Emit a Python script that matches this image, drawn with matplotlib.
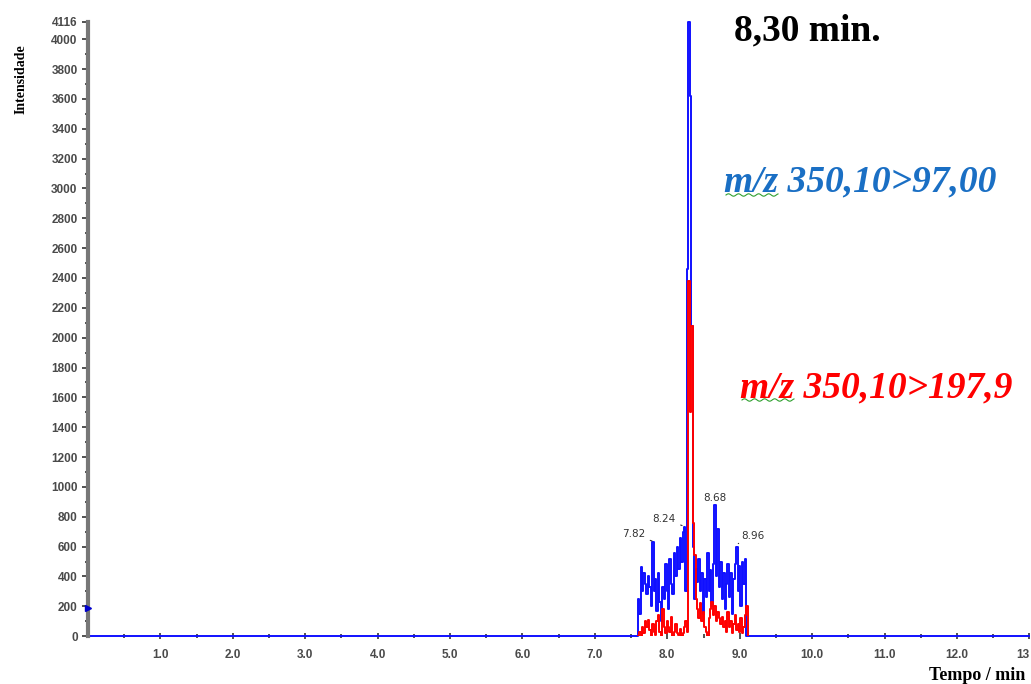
import matplotlib.pyplot as plt
from matplotlib.lines import Line2D
import numpy as np

# retention time grid of the chromatogram window (min)
t_win = np.round(np.arange(7.58, 9.101, 0.02), 2)

# m/z 350,10>97,00 (blue trace)
blue = [0, 250, 150, 460, 300, 420, 350, 280, 400, 330,
        200, 630, 300, 380, 170, 420, 230, 100, 330, 250,
        480, 300, 180, 520, 350, 280, 560, 400, 600, 450,
        660, 500, 700, 730, 300, 2460, 4116, 3620, 2080, 600,
        250, 450, 360, 520, 300, 420, 150, 380, 260, 560,
        300, 440, 200, 480, 880, 400, 720, 330, 500, 250,
        420, 180, 350, 480, 260, 420, 150, 380, 480, 600,
        300, 470, 200, 500, 350, 520, 0]

# m/z 350,10>197,9 (red trace)
red = [0, 30, 0, 60, 20, 100, 60, 110, 40, 0,
       80, 30, 10, 100, 140, 30, 0, 180, 60, 20,
       100, 60, 30, 130, 0, 30, 80, 20, 10, 50,
       0, 20, 60, 100, 30, 2380, 1500, 2080, 760, 545,
       250, 180, 120, 220, 100, 160, 60, 30, 0, 120,
       180, 230, 140, 200, 100, 160, 120, 80, 130, 60,
       100, 30, 160, 60, 100, 20, 80, 140, 40, 80,
       30, 120, 20, 60, 140, 200, 0]

# peak labels
peak_txt = ['7.82', '8.24', '8.68', '8.96']
peak_t = [7.81, 8.26, 8.66, 8.96]
peak_y = [632, 730, 880, 600]

# whole run for the blue trace, baseline outside the window
t = np.concatenate([[0.0], t_win, [13.0]])
b = np.concatenate([[0], blue, [0]])

fig = plt.figure(figsize=(10.31, 6.84), dpi=100)
ax = fig.add_axes([0.0854, 0.070, 0.913, 0.898])

ax.plot(t, b, color='#1010ff', lw=1.4, drawstyle='steps-mid', zorder=2, clip_on=False)
ax.plot(t_win + 0.02, red, color='#ff0000', lw=1.4, drawstyle='steps-mid', zorder=3)
ax.set_xlim(0, 13)
ax.set_ylim(0, 4116)

# axis look
for s in ['top', 'right', 'bottom']:
    ax.spines[s].set_visible(False)
ax.spines['left'].set_color('#777777')
ax.spines['left'].set_linewidth(3)

yt = list(range(0, 4001, 200)) + [4116]
ax.set_yticks(yt)
ax.set_yticklabels([str(v) for v in yt])
ax.set_yticks(range(100, 4001, 200), minor=True)
xt = list(range(1, 13))
ax.set_xticks(xt + [13])
ax.set_xticklabels(['%d.0' % v for v in xt] + ['13'])
ax.set_xticks(np.arange(0.5, 13, 1.0), minor=True)
ax.tick_params(axis='both', which='major', labelsize=8.5, length=4, width=1.2,
               colors='#333333', labelcolor='#4a4a4a')
ax.tick_params(axis='both', which='minor', length=2.5, width=1.2, colors='#333333')
ax.tick_params(axis='x', which='both', direction='inout', pad=7)
for lab in ax.get_xticklabels() + ax.get_yticklabels():
    lab.set_fontweight('bold')
    lab.set_family('Liberation Sans')
ax.get_xticklabels()[-1].set_horizontalalignment('right')

# small marker on the y axis
ax.plot([0.0], [188], marker='>', color='#0000cc', ms=5, clip_on=False, zorder=5)

fig.text(0.020, 0.885, 'Intensidade', rotation=90, fontsize=10, fontweight='bold',
         family='Liberation Serif', ha='center', va='center')
fig.text(0.995, 0.012, 'Tempo / min', ha='right', va='center',
         fontsize=13, fontweight='bold', family='Liberation Serif')

fig.text(0.712, 0.955, '8,30 min.', fontsize=27, fontweight='bold',
         family='Liberation Serif', ha='left', va='center')
fig.text(0.702, 0.734, 'm/z 350,10>97,00', fontsize=27, fontweight='bold', style='italic',
         color='#1a6fc4', family='Liberation Serif', ha='left', va='center')
fig.text(0.718, 0.433, 'm/z 350,10>197,9', fontsize=27, fontweight='bold', style='italic',
         color='#ff0000', family='Liberation Serif', ha='left', va='center')

# green wavy underline under "m/z" (spell check mark)
for x0, y0 in [(726, 489), (742, 284)]:
    wx = np.linspace(x0, x0 + 52, 60)
    wy = y0 + 1.2 * np.sin((wx - x0) / 1.6)
    fig.add_artist(Line2D(wx / 1031, wy / 684, color='#2fa02f', lw=0.8))

# peak annotations with small leader lines
ax.annotate(peak_txt[0], xy=(peak_t[0] - 0.02, peak_y[0] + 5), xytext=(peak_t[0] - 0.12, peak_y[0] + 20),
            fontsize=7.5, color='#333333', ha='right', va='bottom',
            arrowprops=dict(arrowstyle='-', color='#333333', lw=0.8))
ax.annotate(peak_txt[1], xy=(peak_t[1] - 0.02, peak_y[1] + 5), xytext=(peak_t[1] - 0.15, peak_y[1] + 20),
            fontsize=7.5, color='#333333', ha='right', va='bottom',
            arrowprops=dict(arrowstyle='-', color='#333333', lw=0.8))
ax.text(peak_t[2] - 0.17, peak_y[2] + 10, peak_txt[2], fontsize=7.5, color='#333333',
        ha='left', va='bottom')
ax.annotate(peak_txt[3], xy=(peak_t[3] + 0.02, peak_y[3] + 20), xytext=(peak_t[3] + 0.06, peak_y[3] + 40),
            fontsize=7.5, color='#333333', ha='left', va='bottom',
            arrowprops=dict(arrowstyle='-', color='#333333', lw=0.8))

plt.savefig('out.png', dpi=100)
